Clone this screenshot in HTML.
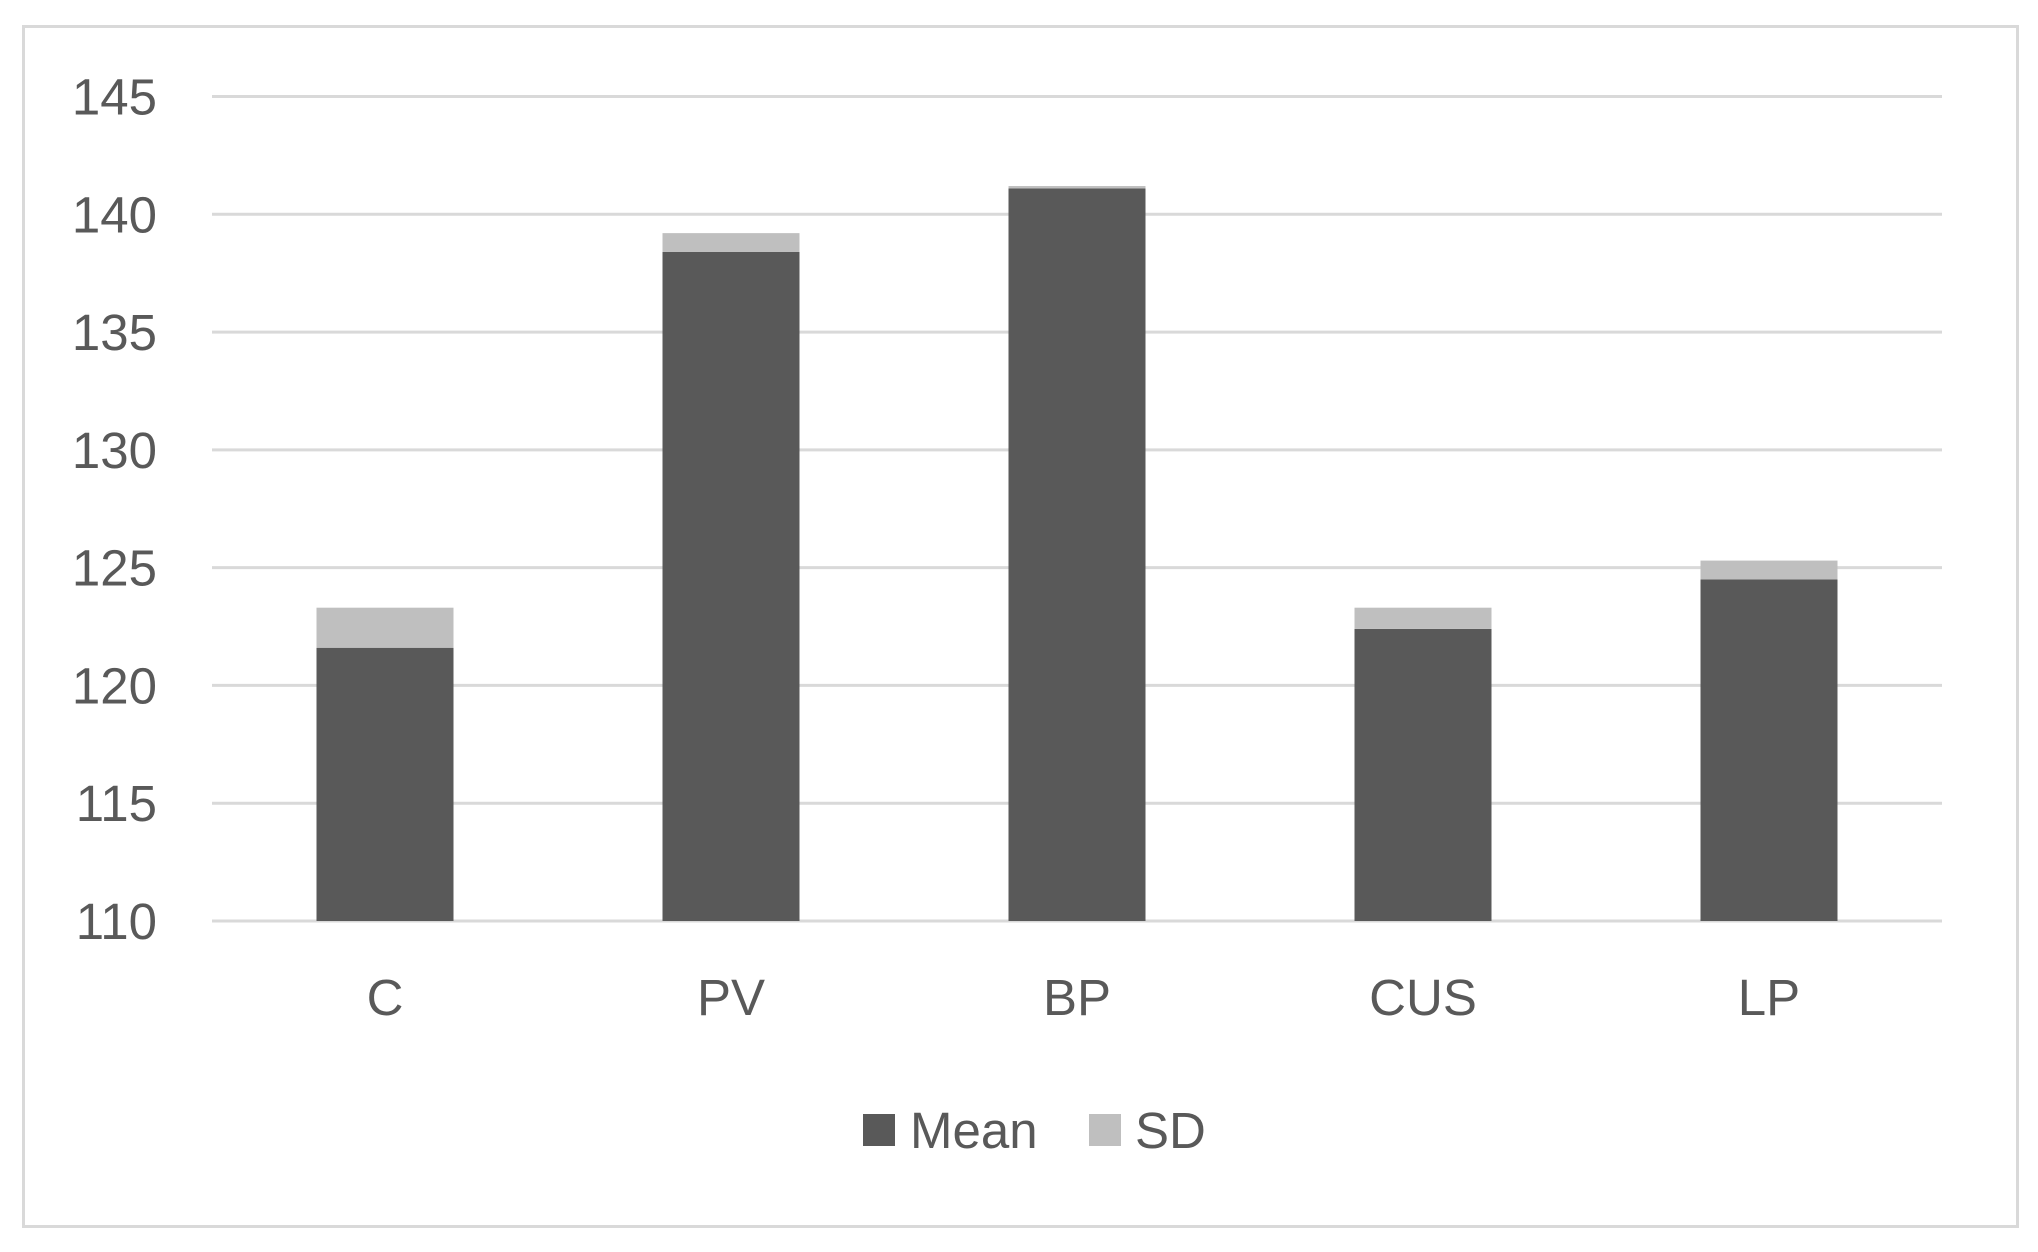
<!DOCTYPE html>
<html><head><meta charset="utf-8">
<style>
html,body{margin:0;padding:0;background:#fff;}
svg text{font-family:"Liberation Sans",sans-serif;fill:#595959;}
</style></head>
<body>
<svg id="chart" width="2038" height="1247" viewBox="0 0 2038 1247" xmlns="http://www.w3.org/2000/svg">
<rect x="23.5" y="26.5" width="1994" height="1200" fill="#fff" stroke="#d9d9d9" stroke-width="3"/>
<g id="grid"></g>
<g id="yticks"></g>
<g id="bars"></g>
<g id="xlabels"></g>
<g>
<rect x="863" y="1114" width="32" height="32" fill="#595959"/>
<text x="910" y="1148" font-size="51">Mean</text>
<rect x="1089" y="1114" width="32" height="32" fill="#bfbfbf"/>
<text x="1135" y="1148" font-size="51">SD</text>
</g>
</svg>
<script>
const categories = ["C","PV","BP","CUS","LP"];
const meanValues = [121.6, 138.4, 141.1, 122.4, 124.5];
const sdValues = [1.7, 0.8, 0.1, 0.9, 0.8];
const yTicks = [110,115,120,125,130,135,140,145];

const NS = "http://www.w3.org/2000/svg";
const plotL = 212, plotR = 1942, yMin = 110, yMax = 145, pxMin = 921, pxMax = 96.5;
function yScale(v){ return pxMin + (v - yMin) * (pxMax - pxMin) / (yMax - yMin); }
const band = (plotR - plotL) / categories.length;
function xCenter(i){ return plotL + band * (i + 0.5); }
const barW = 137;

const grid = document.getElementById('grid');
const yt = document.getElementById('yticks');
yTicks.forEach(t => {
  const l = document.createElementNS(NS, 'line');
  
  
  l.setAttribute('x1', plotL); l.setAttribute('x2', plotR);
  l.setAttribute('y1', yScale(t)); l.setAttribute('y2', yScale(t));
  l.setAttribute('stroke', '#d9d9d9'); l.setAttribute('stroke-width', '3');
  grid.appendChild(l);
  const tx = document.createElementNS(NS, 'text');
  
  
  tx.setAttribute('x', 157); tx.setAttribute('y', yScale(t) + 18);
  tx.setAttribute('text-anchor', 'end'); tx.setAttribute('font-size', '51');
  tx.textContent = t;
  yt.appendChild(tx);
});

const bars = document.getElementById('bars');
const xl = document.getElementById('xlabels');
categories.forEach((c, i) => {
  const x = xCenter(i) - barW / 2;
  const m = document.createElementNS(NS, 'rect');
  
  
  m.setAttribute('x', x); m.setAttribute('width', barW);
  m.setAttribute('y', yScale(meanValues[i]));
  m.setAttribute('height', yScale(yMin) - yScale(meanValues[i]));
  m.setAttribute('fill', '#595959');
  bars.appendChild(m);
  const s = document.createElementNS(NS, 'rect');
  
  
  s.setAttribute('x', x); s.setAttribute('width', barW);
  s.setAttribute('y', yScale(meanValues[i] + sdValues[i]));
  s.setAttribute('height', yScale(meanValues[i]) - yScale(meanValues[i] + sdValues[i]));
  s.setAttribute('fill', '#bfbfbf');
  bars.appendChild(s);
  const t = document.createElementNS(NS, 'text');
  
  
  t.setAttribute('x', xCenter(i)); t.setAttribute('y', 1015);
  t.setAttribute('text-anchor', 'middle'); t.setAttribute('font-size', '51');
  t.textContent = c;
  xl.appendChild(t);
});
</script>
</body></html>
